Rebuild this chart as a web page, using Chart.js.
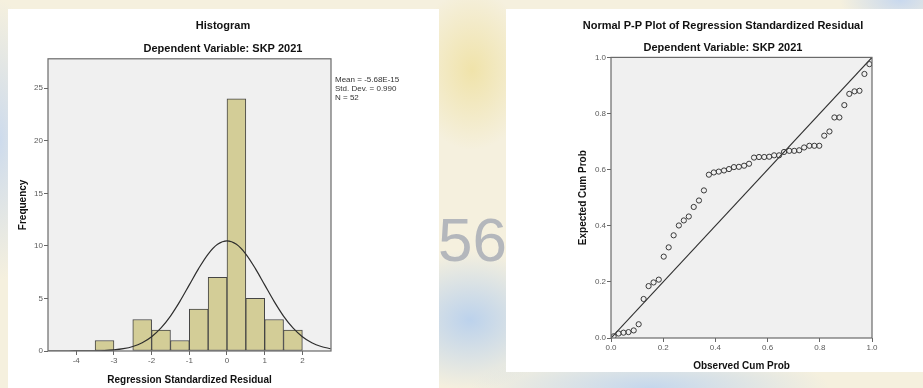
<!DOCTYPE html>
<html>
<head>
<meta charset="utf-8">
<script src="https://cdn.jsdelivr.net/npm/chart.js@4.4.1/dist/chart.umd.min.js"></script>
<style>
html, body { margin: 0; padding: 0; }
body {
    width: 923px; height: 388px; position: relative; overflow: hidden;
    background:
        radial-gradient(90px 70px at 470px 320px, #bcd2ec 0%, rgba(188,210,236,0) 100%),
        radial-gradient(180px 40px at 650px 388px, #c4d7ed 0%, rgba(196,215,237,0) 100%),
        radial-gradient(40px 140px at 0px 140px, #cddbed 0%, rgba(205,219,237,0) 100%),
        radial-gradient(60px 80px at 472px 70px, #f0e3aa 0%, rgba(240,227,170,0) 100%),
        radial-gradient(60px 30px at 900px 0px, #c8d8ee 0%, rgba(200,216,238,0) 100%),
        #f5f0de;
}
.panel { position: absolute; background: #fff; }
#p1 { left: 8px; top: 9px; width: 431px; height: 379px; }
#p2 { left: 506px; top: 9px; width: 417px; height: 363px; }
.wm { position: absolute; left: 438px; top: 204px; font: 62px 'Liberation Sans', Arial, sans-serif; color: #b4b7bc; }
#c1 { position: absolute; left: 8px; top: 9px; }
#c2 { position: absolute; left: 530px; top: 9px; }
</style>
</head>
<body>
<div class="wm">56</div>
<div class="panel" id="p1"></div>
<div class="panel" id="p2"></div>
<canvas id="c1" width="430" height="379"></canvas>
<canvas id="c2" width="386" height="363"></canvas>
<script>
// Histogram: bin centres (bin width 0.5) and counts
var binCenters  = [-3.25, -2.25, -1.75, -1.25, -0.75, -0.25, 0.25, 0.75, 1.25, 1.75]
var frequencies = [1, 3, 2, 1, 4, 7, 24, 5, 3, 2]

// Normal curve
var curveX = [-4.75, -4.5, -4.25, -4, -3.75, -3.5, -3.25, -3, -2.75, -2.5, -2.25, -2, -1.75, -1.5, -1.25, -1,
              -0.75, -0.5, -0.25, 0, 0.25, 0.5, 0.75, 1, 1.25, 1.5, 1.75, 2, 2.25, 2.5, 2.75]
var curveY = [0.0001, 0.0003, 0.001, 0.003, 0.008, 0.02, 0.048, 0.106, 0.221, 0.432, 0.792, 1.361, 2.197, 3.325, 4.722, 6.292,
              7.866, 9.225, 10.151, 10.48, 10.151, 9.225, 7.866, 6.292, 4.722, 3.325, 2.197, 1.361, 0.792, 0.432, 0.221]

var histXTicks = [-4, -3, -2, -1, 0, 1, 2]
var histYTicks = [0, 5, 10, 15, 20, 25]
var statsLines = ['Mean = -5.68E-15', 'Std. Dev. = 0.990', 'N = 52']

// P-P plot
var observedCum = [0.010, 0.029, 0.048, 0.067, 0.087, 0.106, 0.125, 0.144, 0.163, 0.183, 0.202, 0.221, 0.240,
                   0.260, 0.279, 0.298, 0.317, 0.337, 0.356, 0.375, 0.394, 0.413, 0.433, 0.452, 0.471, 0.490,
                   0.510, 0.529, 0.548, 0.567, 0.587, 0.606, 0.625, 0.644, 0.663, 0.683, 0.702, 0.721, 0.740,
                   0.760, 0.779, 0.798, 0.817, 0.837, 0.856, 0.875, 0.894, 0.913, 0.933, 0.952, 0.971, 0.990]
var expectedCum = [0.006, 0.016, 0.019, 0.021, 0.027, 0.049, 0.139, 0.185, 0.198, 0.208, 0.290, 0.323, 0.366,
                   0.401, 0.419, 0.433, 0.467, 0.490, 0.526, 0.582, 0.590, 0.593, 0.597, 0.602, 0.609, 0.610,
                   0.614, 0.621, 0.643, 0.645, 0.645, 0.646, 0.651, 0.651, 0.663, 0.667, 0.667, 0.669, 0.679,
                   0.685, 0.685, 0.685, 0.721, 0.736, 0.786, 0.786, 0.830, 0.870, 0.879, 0.881, 0.941, 0.976]
var ppTicks = [0, 0.2, 0.4, 0.6, 0.8, 1.0]

var FONT = "'Liberation Sans', Arial, sans-serif"
var TICK_COLOR = '#5a5a5a'

Chart.defaults.font.family = FONT
Chart.defaults.color = '#222'

function fixTicks(values) {
    return function (scale) {
        scale.ticks = values.map(function (v) { return { value: v } })
    }
}

function fixSize(prop, size) {
    return function (scale) { scale[prop] = size }
}

// grey plot background and frame, like SPSS
var plotFrame = {
    id: 'plotFrame',
    beforeDraw: function (chart) {
        var a = chart.chartArea, ctx = chart.ctx
        ctx.save()
        ctx.fillStyle = '#f0f0f0'
        ctx.fillRect(a.left, a.top, a.right - a.left, a.bottom - a.top)
        ctx.restore()
    },
    afterDraw: function (chart) {
        var a = chart.chartArea, ctx = chart.ctx
        ctx.save()
        ctx.strokeStyle = '#6a6a6a'
        ctx.lineWidth = 1.2
        ctx.strokeRect(a.left, a.top, a.right - a.left, a.bottom - a.top)
        ctx.restore()
    }
}

var statsText = {
    id: 'statsText',
    afterDraw: function (chart) {
        var a = chart.chartArea, ctx = chart.ctx
        ctx.save()
        ctx.font = '8px ' + FONT
        ctx.fillStyle = '#333'
        ctx.textBaseline = 'middle'
        statsLines.forEach(function (line, i) {
            ctx.fillText(line, a.right + 4, a.top + 21 + i * 9)
        })
        ctx.restore()
    }
}

function axisOpts(min, max, ticks, fmt, title, titlePad, sizeProp, size) {
    return {
        type: 'linear',
        min: min,
        max: max,
        offset: false,
        afterBuildTicks: fixTicks(ticks),
        afterFit: fixSize(sizeProp, size),
        grid: { display: true, offset: false, drawOnChartArea: false, drawTicks: true, tickLength: 4, color: '#666' },
        border: { display: false },
        ticks: {
            autoSkip: false, maxRotation: 0, padding: 1,
            color: TICK_COLOR, font: { size: 8 },
            callback: fmt
        },
        title: { display: true, text: title, font: { size: 10, weight: 'bold' }, color: '#111', padding: titlePad }
    }
}

function padAxis(width) {
    return {
        position: 'right',
        display: true,
        grid: { display: false },
        border: { display: false },
        ticks: { display: false },
        afterFit: fixSize('width', width)
    }
}

// Histogram
new Chart(document.getElementById('c1'), {
    type: 'bar',
    data: {
        datasets: [
            {
                type: 'line',
                data: curveX.map(function (x, i) { return { x: x, y: curveY[i] } }),
                borderColor: '#2e2e2e',
                borderWidth: 1.2,
                pointRadius: 0,
                cubicInterpolationMode: 'monotone',
                order: 0
            },
            {
                data: binCenters.map(function (x, i) { return { x: x, y: frequencies[i] } }),
                backgroundColor: '#d3cd97',
                borderColor: '#454545',
                borderWidth: 1,
                borderSkipped: false,
                barPercentage: 1,
                categoryPercentage: 1,
                order: 1
            }
        ]
    },
    options: {
        responsive: false,
        animation: false,
        events: [],
        plugins: {
            legend: { display: false },
            tooltip: { enabled: false },
            title: { display: true, text: 'Histogram', font: { size: 11, weight: 'bold' }, color: '#111', padding: { top: 10, bottom: 0 } },
            subtitle: { display: true, text: 'Dependent Variable: SKP 2021', font: { size: 11, weight: 'bold' }, color: '#111', padding: { top: 10, bottom: 3.4 } }
        },
        scales: {
            x: axisOpts(-4.75, 2.76, histXTicks, function (v) { return v }, 'Regression Standardized Residual', { top: 0, bottom: 2 }, 'height', 37),
            y: axisOpts(0, 27.8, histYTicks, function (v) { return v }, 'Frequency', { top: 9, bottom: 0 }, 'width', 40),
            pad: padAxis(107)
        }
    },
    plugins: [plotFrame, statsText]
})

// Normal P-P plot
new Chart(document.getElementById('c2'), {
    type: 'scatter',
    data: {
        datasets: [
            {
                data: [{ x: 0, y: 0 }, { x: 1, y: 1 }],
                showLine: true,
                borderColor: '#2e2e2e',
                borderWidth: 1.1,
                pointRadius: 0,
                order: 1
            },
            {
                data: observedCum.map(function (x, i) { return { x: x, y: expectedCum[i] } }),
                pointRadius: 2.6,
                pointBorderWidth: 1,
                pointBorderColor: '#3a3a3a',
                pointBackgroundColor: 'rgba(0,0,0,0)',
                order: 0
            }
        ]
    },
    options: {
        responsive: false,
        animation: false,
        events: [],
        plugins: {
            legend: { display: false },
            tooltip: { enabled: false },
            title: { display: true, text: 'Normal P-P Plot of Regression Standardized Residual', font: { size: 11, weight: 'bold' }, color: '#111', padding: { top: 10, bottom: 0 } },
            subtitle: { display: true, text: 'Dependent Variable: SKP 2021', font: { size: 11, weight: 'bold' }, color: '#111', padding: { top: 9, bottom: 3 } }
        },
        scales: {
            x: axisOpts(0, 1, ppTicks, function (v) { return v.toFixed(1) }, 'Observed Cum Prob', { top: 0, bottom: 0 }, 'height', 34),
            y: axisOpts(0, 1, ppTicks, function (v) { return v.toFixed(1) }, 'Expected Cum Prob', { top: 47, bottom: 0 }, 'width', 81),
            pad: padAxis(44)
        }
    },
    plugins: [plotFrame]
})
</script>
</body>
</html>
